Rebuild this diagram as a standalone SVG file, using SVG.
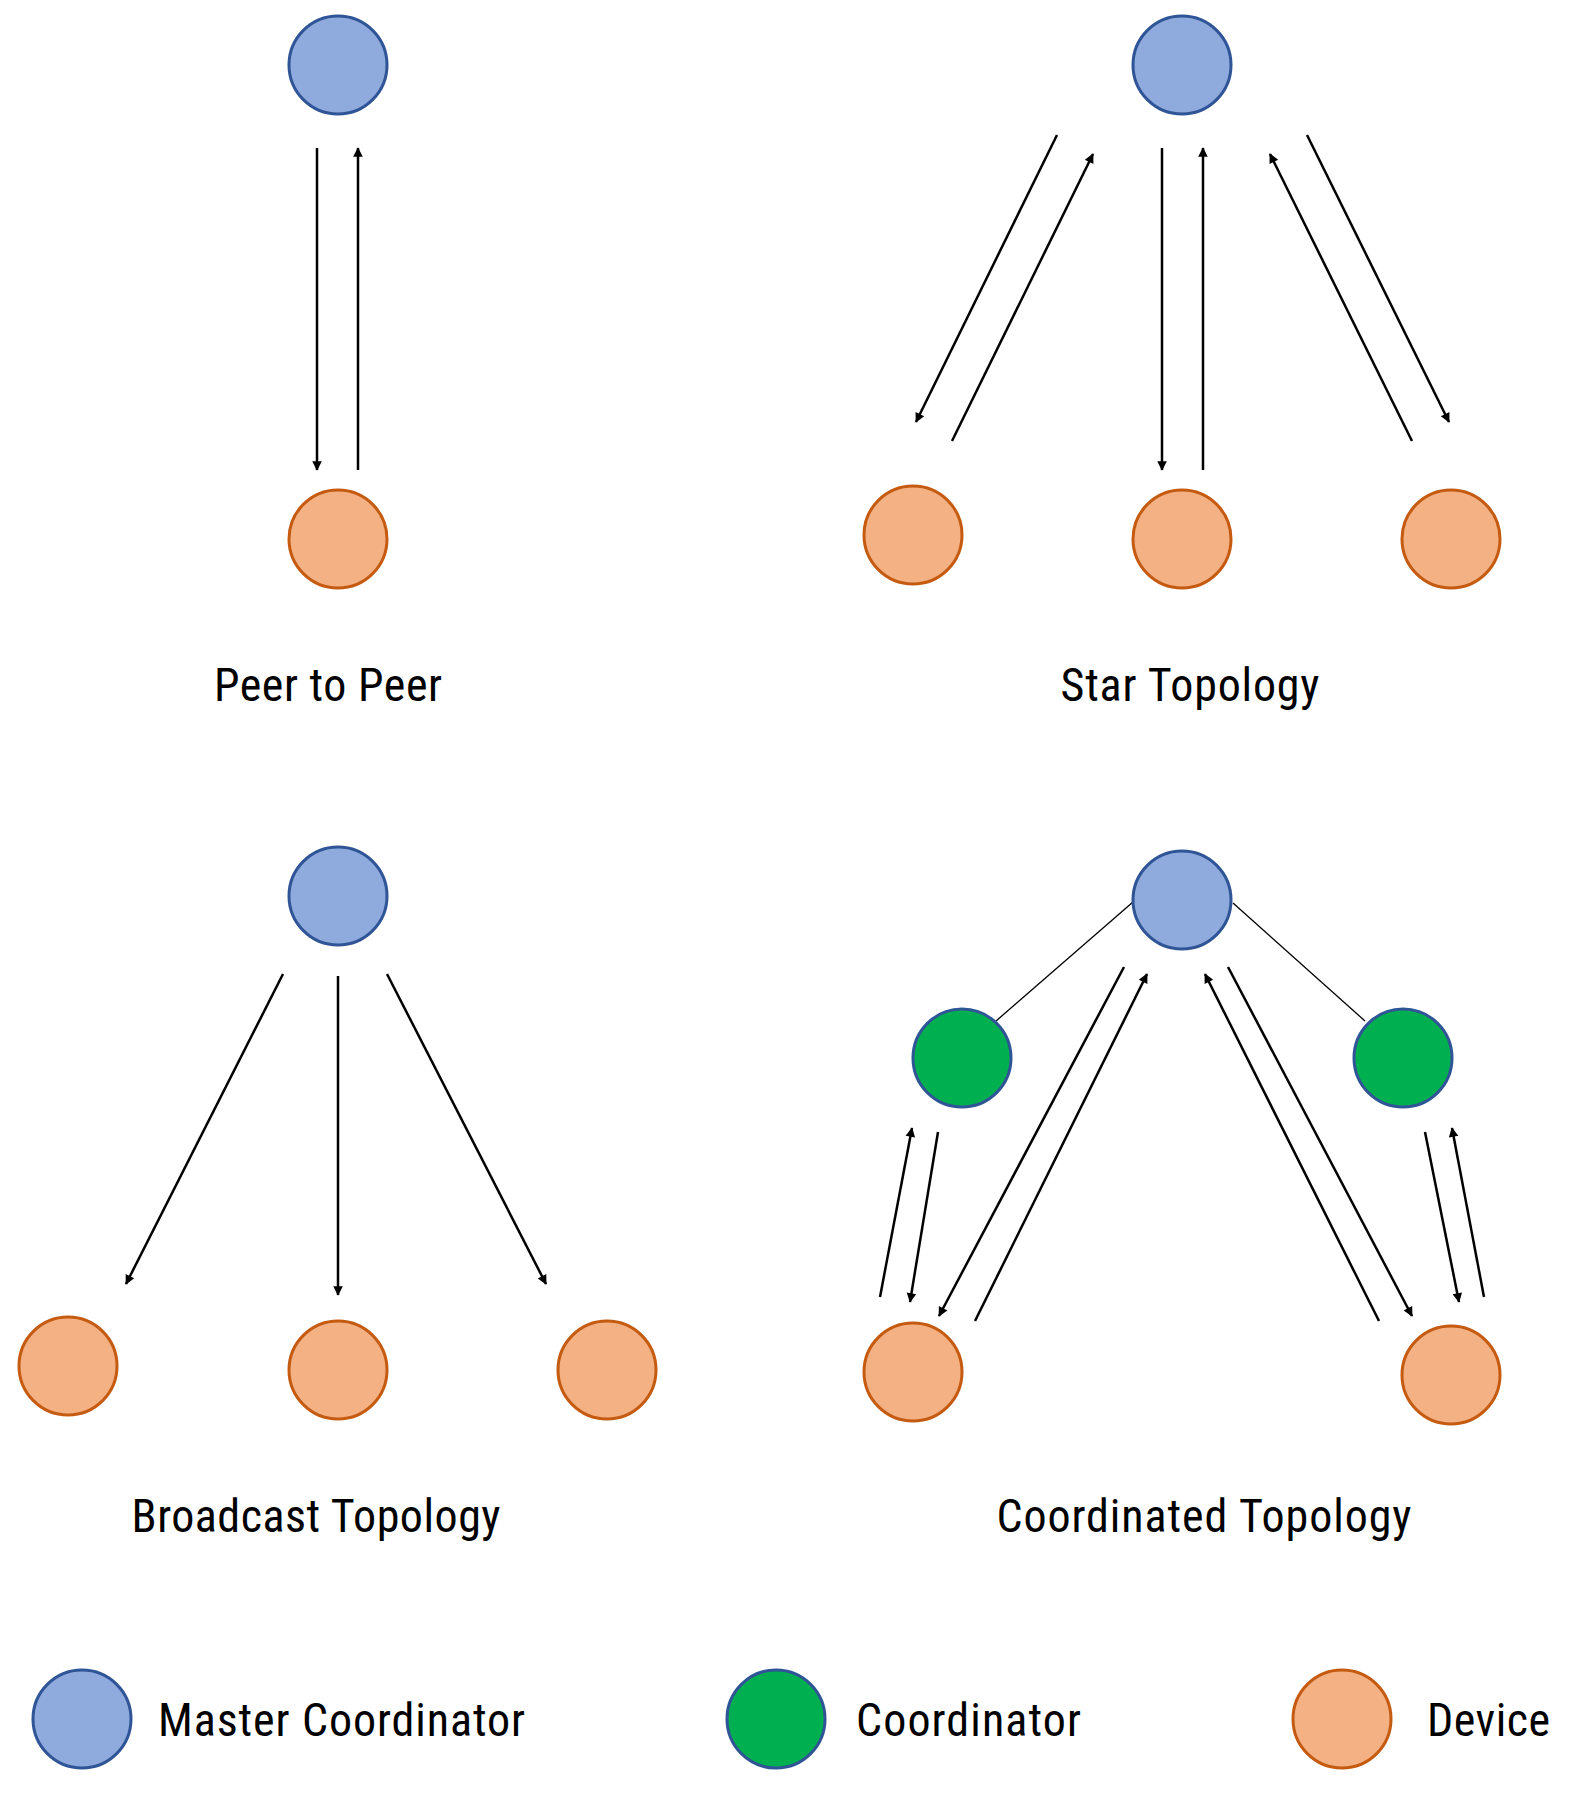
<svg xmlns="http://www.w3.org/2000/svg" width="1575" height="1794" viewBox="0 0 1575 1794">
<style>
.m{fill:#8FAADC;stroke:#2F5597;stroke-width:3}
.c{fill:#00B050;stroke:#2F5597;stroke-width:3}
.d{fill:#F4B183;stroke:#C55A11;stroke-width:3}
.a{stroke:#000;stroke-width:2.5;fill:none;marker-end:url(#ah)}
.t{stroke:#000;stroke-width:1.3}
text{font-family:"Roboto","Liberation Sans",sans-serif;font-size:46px;fill:#000;font-stretch:condensed}
</style>
<defs><marker id="ah" viewBox="0 0 10 10" refX="9" refY="5" markerWidth="6" markerHeight="6" orient="auto" markerUnits="userSpaceOnUse" style="overflow:visible"><path d="M0,0 L10,5 L0,10 z" transform="scale(1.6) translate(-3.5,-1.9)" fill="#000"/></marker></defs>
<rect width="1575" height="1794" fill="#fff"/>
<g id="connectors">
<line class="a" x1="317" y1="148" x2="317" y2="470"/>
<line class="a" x1="358" y1="470" x2="358" y2="148"/>
<line class="a" x1="1057" y1="135" x2="916" y2="422"/>
<line class="a" x1="952" y1="441" x2="1093" y2="154"/>
<line class="a" x1="1162" y1="148" x2="1162" y2="470"/>
<line class="a" x1="1203" y1="470" x2="1203" y2="148"/>
<line class="a" x1="1412" y1="441" x2="1270" y2="154"/>
<line class="a" x1="1307" y1="135" x2="1449" y2="422"/>
<line class="a" x1="283" y1="974" x2="126" y2="1284"/>
<line class="a" x1="338" y1="976" x2="338" y2="1295"/>
<line class="a" x1="387" y1="974" x2="546" y2="1284"/>
<line class="t" x1="1133" y1="902" x2="996" y2="1021"/>
<line class="t" x1="1233" y1="903" x2="1365" y2="1021"/>
<line class="a" x1="880" y1="1297" x2="912" y2="1128"/>
<line class="a" x1="938" y1="1132" x2="910" y2="1302"/>
<line class="a" x1="1124" y1="967" x2="939" y2="1316"/>
<line class="a" x1="975" y1="1321" x2="1147" y2="974"/>
<line class="a" x1="1379" y1="1321" x2="1205" y2="974"/>
<line class="a" x1="1228" y1="967" x2="1412" y2="1316"/>
<line class="a" x1="1425" y1="1132" x2="1459" y2="1302"/>
<line class="a" x1="1484" y1="1297" x2="1452" y2="1128"/>
</g>
<g id="p2p-master"><circle class="m" cx="338" cy="65" r="49"/></g>
<g id="p2p-device"><circle class="d" cx="338" cy="539" r="49"/></g>
<g id="p2p-label"><text x="328" y="701" text-anchor="middle" textLength="228">Peer to Peer</text></g>
<g id="star-master"><circle class="m" cx="1182" cy="65" r="49"/></g>
<g id="star-d1"><circle class="d" cx="913" cy="535" r="49"/></g>
<g id="star-d2"><circle class="d" cx="1182" cy="539" r="49"/></g>
<g id="star-d3"><circle class="d" cx="1451" cy="539" r="49"/></g>
<g id="star-label"><text x="1190" y="701" text-anchor="middle" textLength="259">Star Topology</text></g>
<g id="bc-master"><circle class="m" cx="338" cy="896" r="49"/></g>
<g id="bc-d1"><circle class="d" cx="68" cy="1366" r="49"/></g>
<g id="bc-d2"><circle class="d" cx="338" cy="1370" r="49"/></g>
<g id="bc-d3"><circle class="d" cx="607" cy="1370" r="49"/></g>
<g id="bc-label"><text x="316" y="1532" text-anchor="middle" textLength="369">Broadcast Topology</text></g>
<g id="co-master"><circle class="m" cx="1182" cy="900" r="49"/></g>
<g id="co-c1"><circle class="c" cx="962" cy="1058" r="49"/></g>
<g id="co-c2"><circle class="c" cx="1403" cy="1058" r="49"/></g>
<g id="co-d1"><circle class="d" cx="913" cy="1372" r="49"/></g>
<g id="co-d2"><circle class="d" cx="1451" cy="1375" r="49"/></g>
<g id="co-label"><text x="1204" y="1532" text-anchor="middle" textLength="415">Coordinated Topology</text></g>
<g id="legend-master"><circle class="m" cx="82" cy="1719" r="49"/><text x="158" y="1736" textLength="367">Master Coordinator</text></g>
<g id="legend-coord"><circle class="c" cx="776" cy="1719" r="49"/><text x="856" y="1736" textLength="225">Coordinator</text></g>
<g id="legend-device"><circle class="d" cx="1342" cy="1719" r="49"/><text x="1427" y="1736" textLength="123">Device</text></g>
</svg>
